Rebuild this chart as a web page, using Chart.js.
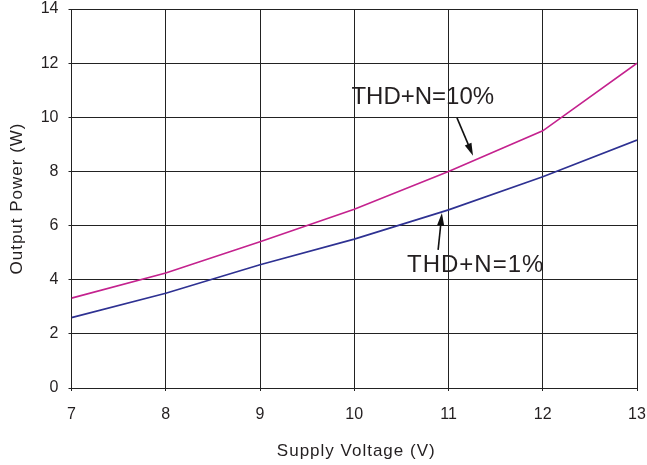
<!DOCTYPE html>
<html>
<head>
<meta charset="utf-8">
<script src="https://cdn.jsdelivr.net/npm/chart.js@4"></script>
<style>
    html, body { margin: 0; padding: 0; background: #ffffff; }
    #wrap { width: 647px; height: 465px; position: relative; }
</style>
</head>
<body>
<div id="wrap"><canvas id="chart"></canvas></div>
<script>
    const voltages = [7, 8, 9, 10, 11, 12, 13];
    const thd10 = [3.32, 4.25, 5.4, 6.6, 8.0, 9.5, 12.0];
    const thd1 = [2.6, 3.5, 4.55, 5.5, 6.58, 7.8, 9.16];
    const yTicks = [0, 2, 4, 6, 8, 10, 12, 14];

    const FONT = "'Liberation Sans', Arial, sans-serif";

    function toPoints(values) {
        return voltages.map(function (v, i) {
            return { x: v, y: values[i] };
        });
    }

    function drawArrow(ctx, x1, y1, x2, y2) {
        const angle = Math.atan2(y2 - y1, x2 - x1);
        const head = 13;
        const spread = 0.28;
        ctx.save();
        ctx.strokeStyle = "#111";
        ctx.fillStyle = "#111";
        ctx.lineWidth = 1.6;
        ctx.beginPath();
        ctx.moveTo(x1, y1);
        ctx.lineTo(x2 - Math.cos(angle) * head * 0.8, y2 - Math.sin(angle) * head * 0.8);
        ctx.stroke();
        ctx.beginPath();
        ctx.moveTo(x2, y2);
        ctx.lineTo(x2 - head * Math.cos(angle - spread), y2 - head * Math.sin(angle - spread));
        ctx.lineTo(x2 - head * Math.cos(angle + spread), y2 - head * Math.sin(angle + spread));
        ctx.closePath();
        ctx.fill();
        ctx.restore();
    }

    // axis titles and callouts, drawn by hand so letter spacing matches
    const annotations = {
        id: "annotations",
        afterDatasetsDraw: function (chart) {
            const ctx = chart.ctx;
            const xs = chart.scales.x;
            const ys = chart.scales.y;
            const area = chart.chartArea;

            ctx.save();
            ctx.fillStyle = "#231f20";
            ctx.font = "24px " + FONT;
            ctx.textBaseline = "alphabetic";
            ctx.textAlign = "left";
            ctx.fillText("THD+N=10%", xs.getPixelForValue(9.97), ys.getPixelForValue(10.5));
            ctx.letterSpacing = "1px";
            ctx.fillText("THD+N=1%", xs.getPixelForValue(10.56), ys.getPixelForValue(4.3));

            ctx.font = "17px " + FONT;
            ctx.letterSpacing = "1px";
            ctx.textAlign = "center";
            ctx.fillText("Supply Voltage (V)", (area.left + area.right) / 2 + 2, 456);

            ctx.translate(22, (area.top + area.bottom) / 2);
            ctx.rotate(-Math.PI / 2);
            ctx.fillText("Output Power (W)", 0, 0);
            ctx.restore();

            drawArrow(ctx, xs.getPixelForValue(11.09), ys.getPixelForValue(9.98),
                xs.getPixelForValue(11.26), ys.getPixelForValue(8.58));
            drawArrow(ctx, xs.getPixelForValue(10.89), ys.getPixelForValue(5.1),
                xs.getPixelForValue(10.93), ys.getPixelForValue(6.46));
        }
    };

    new Chart(document.getElementById("chart"), {
        type: "line",
        data: {
            datasets: [
                {
                    label: "THD+N=10%",
                    data: toPoints(thd10),
                    borderColor: "#c4228e",
                    borderWidth: 1.6,
                    pointRadius: 0,
                    tension: 0,
                    fill: false
                },
                {
                    label: "THD+N=1%",
                    data: toPoints(thd1),
                    borderColor: "#2e3192",
                    borderWidth: 1.6,
                    pointRadius: 0,
                    tension: 0,
                    fill: false
                }
            ]
        },
        options: {
            responsive: true,
            maintainAspectRatio: false,
            animation: false,
            layout: { padding: { top: 9, right: 10, left: 9, bottom: 0 } },
            plugins: {
                legend: { display: false },
                tooltip: { enabled: false }
            },
            scales: {
                x: {
                    type: "linear",
                    min: 7,
                    max: 13,
                    afterFit: function (scale) {
                        scale.height = 77;
                        scale.paddingRight = 0;
                        scale.paddingLeft = 0;
                    },
                    ticks: {
                        stepSize: 1,
                        color: "#231f20",
                        font: { family: FONT, size: 16 },
                        padding: 14
                    },
                    grid: { color: "#222", lineWidth: 1, tickLength: 3 },
                    border: { color: "#222", width: 1 },
                    title: { display: false }
                },
                y: {
                    min: 0,
                    max: 14,
                    afterFit: function (scale) {
                        scale.width = 62.5;
                        scale.paddingTop = 0;
                        scale.paddingBottom = 0;
                    },
                    afterBuildTicks: function (scale) {
                        scale.ticks = yTicks.map(function (v) { return { value: v }; });
                    },
                    ticks: {
                        color: "#231f20",
                        font: { family: FONT, size: 16 },
                        padding: 10
                    },
                    grid: { color: "#222", lineWidth: 1, tickLength: 3 },
                    border: { color: "#222", width: 1 },
                    title: { display: false }
                }
            }
        },
        plugins: [annotations]
    });
</script>
</body>
</html>
